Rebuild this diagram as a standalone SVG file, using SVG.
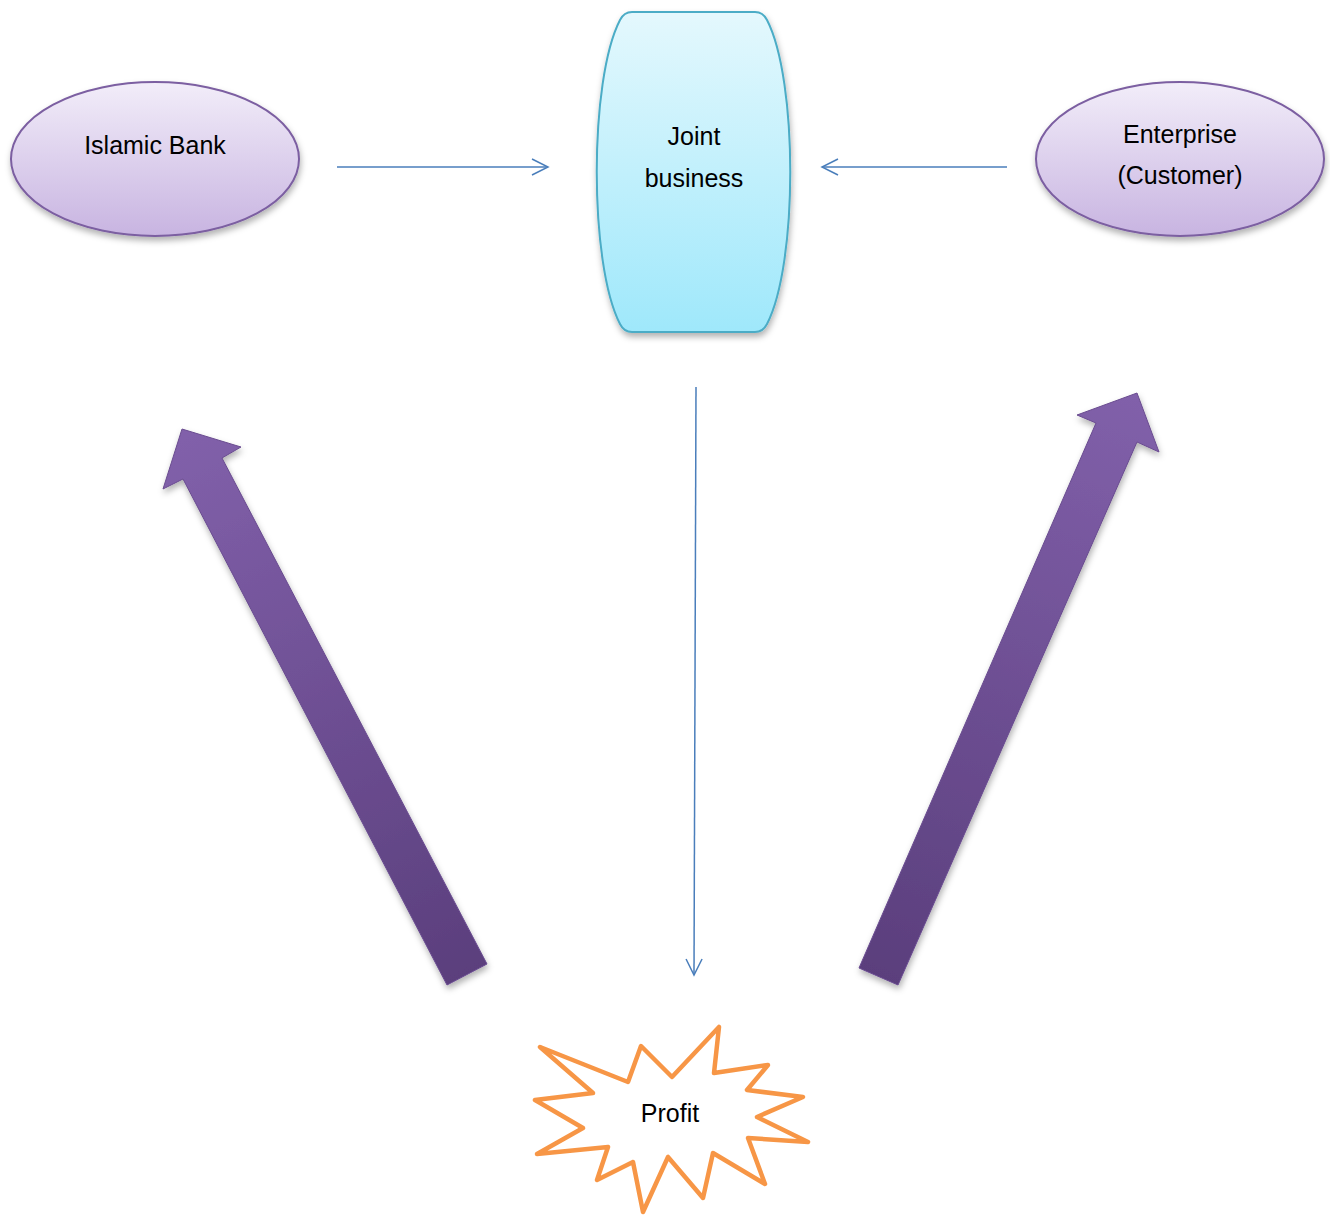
<svg xmlns="http://www.w3.org/2000/svg" width="1330" height="1215" viewBox="0 0 1330 1215">
<style>
text{font-family:"Liberation Sans",Arial,sans-serif;font-size:25px;fill:#000;text-anchor:middle}
.thin{fill:none;stroke:#4a7ebb;stroke-width:1.5}
</style>
<defs>
<linearGradient id="gEll" x1="0" y1="0" x2="0" y2="1">
<stop offset="0" stop-color="#f2edf9"/><stop offset="1" stop-color="#c8b4e1"/>
</linearGradient>
<linearGradient id="gJb" x1="0" y1="0" x2="0" y2="1">
<stop offset="0" stop-color="#e4f8fd"/><stop offset="1" stop-color="#9fe8fb"/>
</linearGradient>
<linearGradient id="gArrL" gradientUnits="userSpaceOnUse" x1="200" y1="430" x2="470" y2="985">
<stop offset="0" stop-color="#8160aa"/><stop offset="1" stop-color="#5a3e7c"/>
</linearGradient>
<linearGradient id="gArrR" gradientUnits="userSpaceOnUse" x1="1130" y1="393" x2="880" y2="985">
<stop offset="0" stop-color="#8160aa"/><stop offset="1" stop-color="#5a3e7c"/>
</linearGradient>
<filter id="sh" x="-20%" y="-20%" width="140%" height="140%">
<feDropShadow dx="1" dy="4" stdDeviation="3" flood-color="#000" flood-opacity="0.3"/>
</filter>
<marker id="open" viewBox="0 0 20 20" refX="18" refY="10" markerWidth="20" markerHeight="20" markerUnits="userSpaceOnUse" orient="auto">
<path d="M2 2 L18 10 L2 18" fill="none" stroke="#4a7ebb" stroke-width="1.5"/>
</marker>
</defs>

<g id="connectors">
<line class="thin" x1="337" y1="167" x2="548" y2="167" marker-end="url(#open)"/>
<line class="thin" x1="1007" y1="167" x2="822" y2="167" marker-end="url(#open)"/>
<line class="thin" x1="696" y1="387" x2="694" y2="975" marker-end="url(#open)"/>
<polygon id="arrow-left" filter="url(#sh)" fill="url(#gArrL)" stroke="#6a4c90" stroke-width="1" points="447,985 183,479 163,489 182,429 241,447 222,458 487,964"/>
<polygon id="arrow-right" filter="url(#sh)" fill="url(#gArrR)" stroke="#6a4c90" stroke-width="1" points="859,968 1096,423 1077,415 1137,393 1159,452 1137,442 898,985"/>
</g>

<g id="islamic-bank">
<ellipse cx="155" cy="159" rx="144" ry="77" fill="url(#gEll)" stroke="#7b5ea1" stroke-width="2" filter="url(#sh)"/>
<text x="155" y="154">Islamic Bank</text>
</g>

<g id="enterprise">
<ellipse cx="1180" cy="159" rx="144" ry="77" fill="url(#gEll)" stroke="#7b5ea1" stroke-width="2" filter="url(#sh)"/>
<text x="1180" y="143">Enterprise</text>
<text x="1180" y="184">(Customer)</text>
</g>

<g id="joint-business">
<path d="M632 12 H755 Q763 12 767 20 C798 80 798 264 767 324 Q763 332 755 332 H632 Q624 332 620 324 C589 264 589 80 620 20 Q624 12 632 12 Z" fill="url(#gJb)" stroke="#4bacc6" stroke-width="2" filter="url(#sh)"/>
<text x="694" y="145">Joint</text>
<text x="694" y="187">business</text>
</g>

<g id="profit">
<polygon fill="#fff" stroke="#f79646" stroke-width="4.5" stroke-linejoin="round" points="540,1047 628,1082 641,1046 672,1077 719,1027 714,1073 768,1065 747,1090 803,1097 757,1117 808,1142 748,1138 765,1184 713,1153 703,1198 668,1157 643,1212 633,1162 597,1180 608,1147 537,1154 583,1128 535,1100 593,1093"/>
<text x="670" y="1122">Profit</text>
</g>
</svg>
